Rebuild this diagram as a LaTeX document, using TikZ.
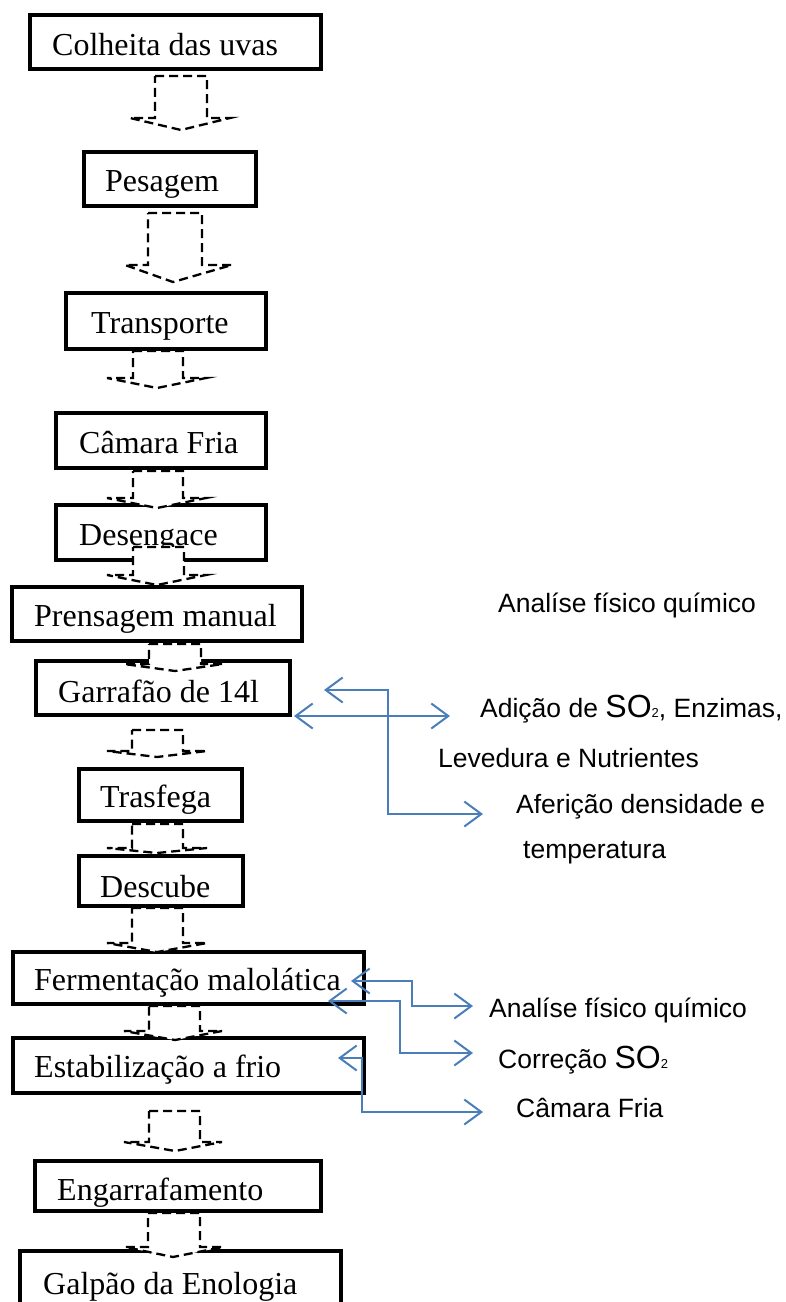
\documentclass[tikz,border=0pt]{standalone}
\usepackage{fontspec}
\setmainfont{Liberation Serif}
\newfontfamily\arialf{Liberation Sans}
\usetikzlibrary{arrows.meta}
\definecolor{conblue}{RGB}{74,126,187}
\newcommand\dnarrow[8]{%
  \draw[blockarrow] (#1,#3) -- (#2,#3) -- (#2,#4) -- (#6,#4) -- (#7,#8) -- (#5,#4) -- (#1,#4) -- cycle;}
\newcommand\bigSO{{\fontsize{32}{32}\selectfont SO}{\fontsize{13}{13}\selectfont 2}}
\begin{document}
\begin{tikzpicture}[x=1pt,y=-1pt,
  box/.style={draw=black,line width=4.2pt,fill=white,inner sep=0pt,minimum width=#1},
  stxt/.style={inner sep=0pt,anchor=base west,font=\fontsize{32}{36}\selectfont},
  atxt/.style={inner sep=0pt,anchor=base west,font=\arialf\fontsize{26.5}{30}\selectfont},
  blockarrow/.style={draw=black,line width=2.3pt,fill=white,dash pattern=on 9pt off 5pt,line join=miter},
  conn/.style={draw=conblue,line width=2pt,
    {Straight Barb[length=17pt,width=25pt]}-{Straight Barb[length=17pt,width=25pt]}}]
\useasboundingbox (0,0) rectangle (785,1302);
\clip (0,0) rectangle (785,1302);
\fill[white] (0,0) rectangle (785,1302);

% boxes
\node[box=291pt,minimum height=54pt] (b1) at (175.5,42) {};
\node[box=172pt,minimum height=54pt] (b2) at (170,179) {};
\node[box=200pt,minimum height=56pt] (b3) at (166,321) {};
\node[box=210pt,minimum height=55pt] (b4) at (161,440.5) {};
\node[box=210pt,minimum height=55pt] (b5) at (161,532.5) {};
\node[box=290pt,minimum height=54pt] (b6) at (157,614) {};
\node[box=254pt,minimum height=54pt] (b7) at (163,688) {};
\node[box=163pt,minimum height=52pt] (b8) at (160.5,795) {};
\node[box=164pt,minimum height=50pt] (b9) at (161,881) {};
\node[box=351pt,minimum height=52pt] (b10) at (188.5,978) {};
\node[box=351pt,minimum height=55pt] (b11) at (188.5,1065.5) {};
\node[box=286pt,minimum height=50pt] (b12) at (178,1186) {};
\node[box=321pt,minimum height=69pt] (b13) at (180.5,1285.5) {};

% box texts
\node[stxt] (t1) at (52,55) {Colheita das uvas};
\node[stxt] (t2) at (105,191) {Pesagem};
\node[stxt] (t3) at (91,333) {Transporte};
\node[stxt] (t4) at (79,453) {Câmara Fria};
\node[stxt] (t5) at (79,545) {Desengace};
\node[stxt] (t6) at (34,626) {Prensagem manual};
\node[stxt] (t7) at (58,702) {Garrafão de 14l};
\node[stxt] (t8) at (100,807) {Trasfega};
\node[stxt] (t9) at (100,897) {Descube};
\node[stxt] (t10) at (34,990) {Fermentação malolática};
\node[stxt] (t11) at (34,1077) {Estabilização a frio};
\node[stxt] (t12) at (57,1200) {Engarrafamento};
\node[stxt] (t13) at (43,1294) {Galpão da Enologia};

% dashed block arrows
\dnarrow{155}{207}{76}{118}{130}{230}{181}{130}
\dnarrow{148}{202}{213}{265}{125}{232}{173}{282}
\dnarrow{133}{183}{351}{378}{107}{206}{157}{388}
\dnarrow{133}{183}{471}{498}{107}{206}{157}{508}
\dnarrow{133}{184}{547}{575}{107}{206}{157}{585}
\dnarrow{149}{201}{644}{664}{124}{223}{175}{671}
\dnarrow{132}{183}{730}{751}{107}{207}{157}{757}
\dnarrow{132}{183}{824}{848}{107}{207}{157}{853}
\dnarrow{132}{183}{908}{943}{107}{207}{157}{952}
\dnarrow{149}{200}{1006}{1031}{124}{222}{175}{1040}
\dnarrow{149}{200}{1111}{1142}{124}{222}{175}{1151}
\dnarrow{148}{200}{1213}{1247}{125}{223}{173}{1257}

% side texts
\node[atxt] (an1) at (498,612) {Analíse físico químico};
\node[atxt] (ad) at (480,717) {Adição de \bigSO, Enzimas,};
\node[atxt] (lev) at (438,767) {Levedura e Nutrientes};
\node[atxt] (af) at (516,813) {Aferição densidade e};
\node[atxt] (tem) at (523,858) {temperatura};
\node[atxt] (an2) at (489,1017) {Analíse físico químico};
\node[atxt] (co) at (498,1068) {Correção \bigSO};
\node[atxt] (cf) at (516,1117) {Câmara Fria};

% connector end points
\coordinate (ga) at (324,690);
\coordinate (gb) at (294,716);
\coordinate (afp) at (483,814);
\coordinate (adp) at (450,716);
\coordinate (fa) at (351,981);
\coordinate (fb) at (328,1001);
\coordinate (ec) at (338,1058);
\coordinate (an2p) at (473,1006);
\coordinate (cop) at (473,1053);
\coordinate (cfp) at (483,1112);

% blue connectors
\draw[conn] (ga) -- (388,690) |- (afp);
\draw[conn] (gb) -- (adp);
\draw[conn] (fa) -- (412,981) |- (an2p);
\draw[conn] (fb) -- (400,1001) |- (cop);
\draw[conn] (ec) -- (362,1058) |- (cfp);
\end{tikzpicture}
\end{document}
